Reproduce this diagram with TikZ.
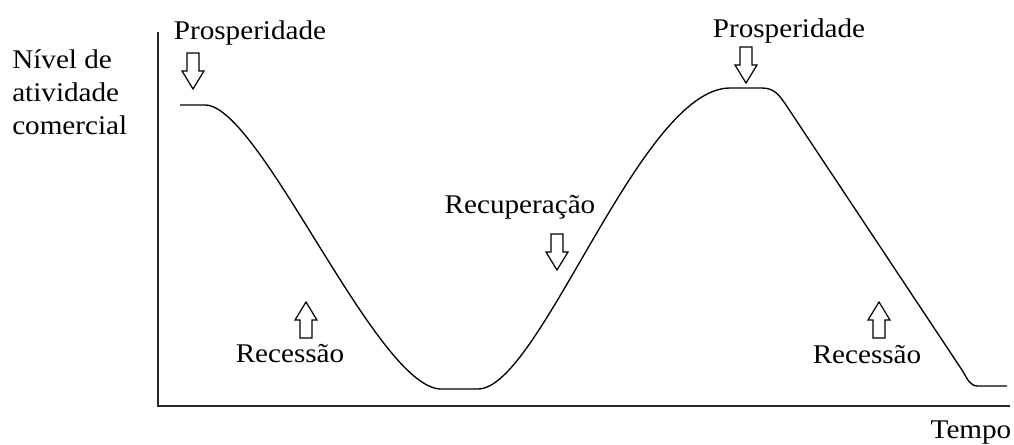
\documentclass[tikz,border=0pt]{standalone}
\usepackage{fontspec}
\setmainfont{Liberation Serif}[FakeStretch=1.08]
\begin{document}
\begin{tikzpicture}[x=0.75pt,y=-0.75pt,
  lbl/.style={font=\fontsize{20.25}{26.25}\selectfont, inner sep=0pt, anchor=base},
  axisline/.style={line width=1.5pt, black!85},
  curveline/.style={line width=1pt, black},
  hollowarrow/.pic={\draw[line width=0.9pt, fill=white]
     (-6,-36) -- (6,-36) -- (6,-18) -- (11,-18) -- (0,0) -- (-11,-18) -- (-6,-18) -- cycle;}
]
\useasboundingbox (0,0) rectangle (1014,444);
% axes
\coordinate (ytop) at (158,32);
\coordinate (origin) at (158,406);
\coordinate (xend) at (1010,406);
\draw[axisline] (ytop) -- (origin) -- (xend);
% curve
\coordinate (c0) at (180,105);
\coordinate (c1) at (205,105);
\coordinate (c2) at (440,389);
\coordinate (c3) at (478,389);
\coordinate (c4) at (730,88);
\coordinate (c5) at (762,88);
\coordinate (c6) at (788,108);
\coordinate (c7) at (962,370);
\coordinate (c8) at (978,386);
\coordinate (c9) at (1007,386);
\draw[curveline] (c0) -- (c1) .. controls (260,105) and (375,385) .. (c2) -- (c3)
  .. controls (540,389) and (640,88) .. (c4) -- (c5)
  .. controls (775,88) and (780,96) .. (c6) -- (c7)
  .. controls (968,380) and (970,386) .. (c8) -- (c9);
% labels
\node[lbl, anchor=base west, align=left, font=\fontsize{20.25}{24.75}\selectfont] (ylab) at (12,134) {Nível de\\atividade\\comercial};
\node[lbl] (p1) at (250,39) {Prosperidade};
\node[lbl] (p2) at (789,37) {Prosperidade};
\node[lbl] (rec) at (520,213) {Recuperação};
\node[lbl] (r1) at (290,362) {Recessão};
\node[lbl] (r2) at (867,363) {Recessão};
\node[lbl] (tempo) at (971,438) {Tempo};
% arrows
\pic at (193,89) {hollowarrow};
\pic at (746,83) {hollowarrow};
\pic at (557,270) {hollowarrow};
\pic[rotate=180] at (306,302) {hollowarrow};
\pic[rotate=180] at (879,302) {hollowarrow};
\end{tikzpicture}
\end{document}
